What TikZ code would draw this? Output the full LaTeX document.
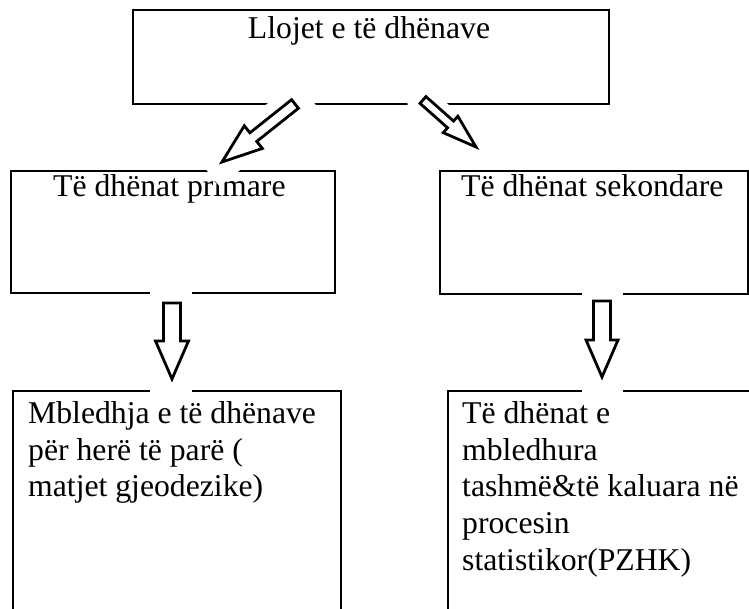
\documentclass[tikz,border=0pt]{standalone}
\usepackage{fontspec}
\setmainfont{Liberation Serif}
\usetikzlibrary{calc}

% block arrow: tail, tip, shaft half width, head half width, head length
\newcommand{\bigarrow}[5]{%
  \path (#1) coordinate (t) (#2) coordinate (p) ($(#2)!#5!(#1)$) coordinate (b);
  \draw[blockarrow] ($(t)!#3!90:(p)$) -- ($(b)!#3!90:(p)$) -- ($(b)!#4!90:(p)$) -- (p)
    -- ($(b)!#4!-90:(p)$) -- ($(b)!#3!-90:(p)$) -- ($(t)!#3!-90:(p)$) -- cycle;}

\begin{document}
\begin{tikzpicture}[x=1pt,y=-1pt]
    \tikzset{
      box/.style={shape=rectangle,draw,line width=2.8pt},
      canvas/.style={shape=rectangle,fill=white,inner sep=0pt},
      blockarrow/.style={draw,fill=white,line width=2.8pt,line join=miter},
      txt/.style={inner sep=0pt,align=left,font=\fontsize{31.7pt}{36.7pt}\selectfont}}
    \clip (0,0) rectangle (749,609);
    % boxes
    \node[box,minimum width=476pt,minimum height=94pt]  (types) at (371,57) {};
    \node[box,minimum width=324pt,minimum height=122pt] (prim)  at (173,232) {};
    \node[box,minimum width=308pt,minimum height=123pt] (sec)   at (594,232.5) {};
    \node[box,minimum width=328pt,minimum height=249pt] (prim-d) at (177,515.5) {};
    \node[box,minimum width=342pt,minimum height=249pt] (sec-d)  at (619,515.5) {};
    % texts
    \node[txt,anchor=base] (types-t) at (369,39) {Llojet e të dhënave};
    \node[txt,anchor=base west] (prim-t) at (53,197) {Të dhënat primare};
    \node[txt,anchor=base west] (sec-t) at (461,197) {Të dhënat sekondare};
    \node[txt,anchor=north west] (prim-d-t) at (28,401.3)
      {Mbledhja e të dhënave\\për herë të parë (\\matjet gjeodezike)};
    \node[txt,anchor=north west] (sec-d-t) at (462,401.3)
      {Të dhënat e\\mbledhura\\tashmë\&të kaluara në\\procesin\\statistikor(PZHK)};
    % white grounds of the arrows
    \node[canvas,minimum width=126pt,minimum height=35pt,rotate=38.6]  (cv1) at (258,133.5) {};
    \node[canvas,minimum width=92pt,minimum height=27pt,rotate=-41.7]  (cv2) at (450.5,124.5) {};
    \node[canvas,minimum width=42pt,minimum height=108pt] (cv3) at (171,342.5) {};
    \node[canvas,minimum width=41pt,minimum height=108pt] (cv4) at (602.5,342.5) {};
    % arrows
    \coordinate (a1) at (295,104);  \coordinate (a1e) at (222,162);
    \coordinate (a2) at (423,100);  \coordinate (a2e) at (476,147);
    \coordinate (a3) at (172,303);  \coordinate (a3e) at (172,379);
    \coordinate (a4) at (602,301);  \coordinate (a4e) at (602,377);
    \bigarrow{a1}{a1e}{5.5pt}{14.5pt}{40pt}
    \bigarrow{a2}{a2e}{4.5pt}{11pt}{34pt}
    \bigarrow{a3}{a3e}{8.5pt}{16.5pt}{38pt}
    \bigarrow{a4}{a4e}{8.5pt}{16pt}{37pt}
\end{tikzpicture}
\end{document}
